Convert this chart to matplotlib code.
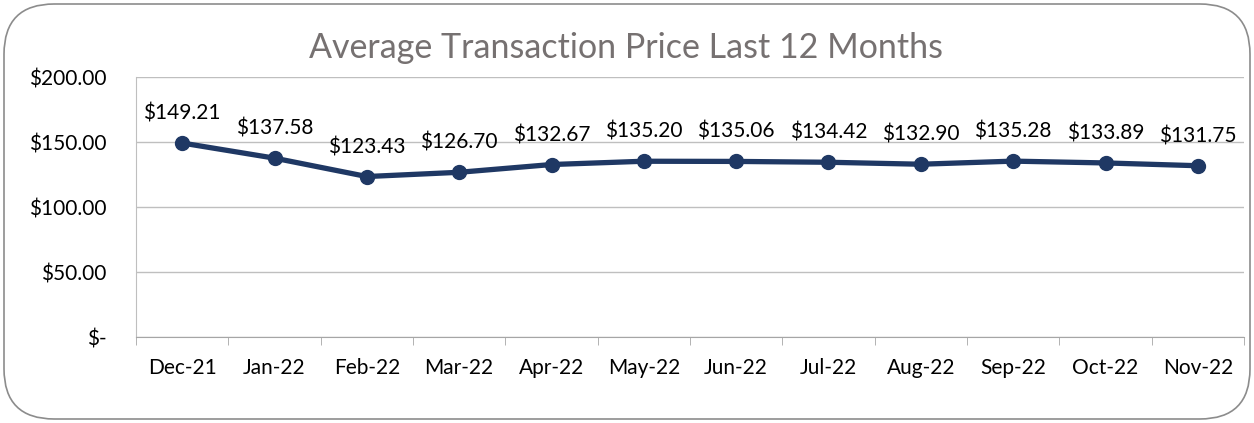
import matplotlib.pyplot as plt
from matplotlib.patches import FancyBboxPatch
import numpy as np

months = ["Dec-21", "Jan-22", "Feb-22", "Mar-22", "Apr-22", "May-22",
          "Jun-22", "Jul-22", "Aug-22", "Sep-22", "Oct-22", "Nov-22"]
avg_price = [149.21, 137.58, 123.43, 126.70, 132.67, 135.20,
             135.06, 134.42, 132.90, 135.28, 133.89, 131.75]
y_ticks = [0, 50, 100, 150, 200]
y_labels = ["$-", "$50.00", "$100.00", "$150.00", "$200.00"]

plt.rcParams["font.family"] = ["Lato", "DejaVu Sans"]

fig = plt.figure(figsize=(12.54, 4.23), dpi=100)
ax = fig.add_axes([136 / 1254, 1 - 337 / 423, 1108 / 1254, 260 / 423])

# rounded border around the whole chart
box = FancyBboxPatch((4 / 1254, 4 / 423), 1246 / 1254, 415 / 423,
                     boxstyle="round,pad=0,rounding_size=0.04",
                     transform=fig.transFigure, fill=False,
                     edgecolor="#8c8c8c", linewidth=1.2,
                     mutation_aspect=1254 / 423)
fig.patches.append(box)

x = np.arange(len(months))
ax.plot(x, avg_price, color="#1f3864", linewidth=3.8, marker="o",
        markersize=10, solid_capstyle="round")

for xi, v in zip(x, avg_price):
    ax.annotate(f"${v:.2f}", (xi, v), xytext=(0, 14), textcoords="offset points",
                ha="center", va="bottom", fontsize=15, color="black")

ax.set_xlim(-0.5, len(months) - 0.5)
ax.set_ylim(0, 200)
ax.set_yticks(y_ticks)
ax.set_yticklabels(y_labels, fontsize=15)
ax.set_xticks(x)
ax.set_xticklabels(months, fontsize=15)
ax.set_xticks(np.arange(-0.5, len(months)), minor=True)
ax.tick_params(axis="x", which="major", length=0, pad=15)
ax.tick_params(axis="x", which="minor", length=6, color="#a6a6a6")
ax.tick_params(axis="y", length=0, pad=21)
ax.grid(axis="y", color="#bfbfbf", linewidth=1)
ax.set_axisbelow(True)

for s in ["top", "right"]:
    ax.spines[s].set_visible(False)
ax.spines["left"].set_color("#bfbfbf")
ax.spines["bottom"].set_color("#a6a6a6")

fig.text(626 / 1254, 1 - 48 / 423, "Average Transaction Price Last 12 Months",
         ha="center", va="center", fontsize=24.5, color="#767171")

fig.savefig("out.png", dpi=100)
